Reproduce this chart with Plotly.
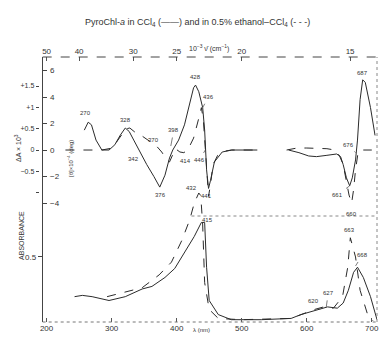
import plotly.graph_objects as go

# ---- data (wavelength in nm) ----
# CD, [theta] x 10^-4 (deg): CCl4 (solid)
cd_solid_wl = [258, 264, 269, 276, 285, 296, 305, 313, 321, 327, 334, 342, 354, 365, 374, 382, 389, 394,
               403, 412, 420, 426, 429, 434, 440, 443, 446, 449, 452, 458, 470, 485, 524, None,
               572, 588, 603, 615, 631, 646, 652, 656, 661, 666, 670, 675, 678, 682, 686, 690, 698, 705]
cd_solid = [1.5, 2.1, 1.9, 0.75, 0, 0, 0.4, 1.1, 1.66, 1.4, 0.75, 0, -1.1, -2.0, -2.8, -1.9, -0.6, 0,
            0.75, 1.9, 3.4, 4.7, 4.9, 4.4, 3.2, 1.5, -1.5, -2.9, -2.3, -0.9, -0.15, 0, 0, None,
            0, -0.2, -0.45, -0.5, -0.4, -0.3, -0.5, -1.1, -2.1, -2.7, -2.1, -0.75, 0.75, 3.8, 5.3, 5.1, 3.2, 1.1]
# CD: 0.5% ethanol-CCl4 (dashed)
cd_dash_wl = [229, 285, 301, 313, 322, 328, 337, 347, 357, 369, 377, 385, 389, 394, 398, 405, 411, 417,
              426, 434, 438, 441, 444, 447, 449, 452, 456, 463, 472, 484, 520, None,
              569, 585, 600, 615, 631, 643, 650, 656, 661, 665, 669, 672, 675, 679, 684, 700]
cd_dash = [0, 0, 0.15, 1.0, 1.6, 1.66, 1.3, 1.05, 0.7, 0.3, -0.15, -0.75, -0.9, -0.3, 0.1, -0.15, -0.2, 0,
           0.9, 2.4, 3.2, 2.3, 0, -2.6, -3.5, -2.6, -1.1, -0.4, -0.1, 0, 0, None,
           0, 0.15, 0.15, 0.15, 0.1, 0, -0.4, -1.1, -2.3, -3.4, -4.0, -3.0, -1.5, -0.15, 0, 0]
# Absorbance: CCl4 (solid)
abs_solid_wl = [243, 255, 270, 296, 321, 347, 362, 382, 397, 412, 427, 438, 443, 446, 450, 464, 484, 530,
                576, 591, 617, 632, 647, 656, 664, 672, 678, 687, 698, 708]
abs_solid = [0.19, 0.20, 0.19, 0.16, 0.19, 0.25, 0.27, 0.34, 0.41, 0.53, 0.66, 0.77, 0.77, 0.42, 0.16,
             0.05, 0.01, 0.01, 0.02, 0.05, 0.09, 0.11, 0.10, 0.14, 0.24, 0.38, 0.42, 0.34, 0.19, 0.01]
# Absorbance: ethanol-CCl4 (dashed)
abs_dash_wl = [293, 316, 347, 373, 392, 408, 420, 427, 434, 437, 440, 443, 450, 464, 499, 576, 612, 626,
               641, 655, 663, 667, 675, 682, 693, 702]
abs_dash = [0.19, 0.22, 0.26, 0.36, 0.46, 0.63, 0.79, 0.92, 1.00, 0.98, 0.75, 0.30, 0.09, 0.02, 0.01,
            0.02, 0.09, 0.11, 0.10, 0.19, 0.42, 0.65, 0.50, 0.24, 0.06, 0.0]

wl_ticks = [200, 300, 400, 500, 600, 700]
wn_ticks = [50, 40, 30, 25, 20, 15]          # 10^-3 nu (cm^-1)
theta_ticks = [6, 4, 2, 0, -2, -4]
dA_ticks = [1.5, 1, 0.5, 0, -0.5, -1]
dA_text = ["+1.5", "+1", "+0.5", "0", "\u22120.5", ""]

INK = "#2b2b2b"
FONT = "Liberation Sans"

fig = go.Figure()
fig.add_trace(go.Scatter(x=abs_solid_wl, y=abs_solid, mode="lines", yaxis="y",
                         line=dict(color=INK, width=1), hoverinfo="skip"))
fig.add_trace(go.Scatter(x=abs_dash_wl, y=abs_dash, mode="lines", yaxis="y",
                         line=dict(color=INK, width=1, dash="dash"), hoverinfo="skip"))
fig.add_trace(go.Scatter(x=cd_solid_wl, y=cd_solid, mode="lines", yaxis="y2",
                         line=dict(color=INK, width=1), connectgaps=False, hoverinfo="skip"))
fig.add_trace(go.Scatter(x=cd_dash_wl, y=cd_dash, mode="lines", yaxis="y2",
                         line=dict(color=INK, width=1, dash="dash"), connectgaps=False, hoverinfo="skip"))
# carrier traces so that the extra axes render
fig.add_trace(go.Scatter(x=[None], y=[None], yaxis="y3", showlegend=False, hoverinfo="skip"))
fig.add_trace(go.Scatter(x=[None], y=[None], xaxis="x2", showlegend=False, hoverinfo="skip"))

W, H = 383, 338
L, R, T, B = 0, 6, 57, 16
pw = W - L - R
plot_left = 40
x0dom = plot_left / pw
xr = [194, 708]

tickfont = dict(family=FONT, size=8, color="#333")
fig.update_layout(
    width=W, height=H, margin=dict(l=L, r=R, t=T, b=B),
    paper_bgcolor="white", plot_bgcolor="white", showlegend=False,
    font=dict(family=FONT, size=8, color="#333"),
    xaxis=dict(domain=[x0dom, 1], range=xr, tickvals=wl_ticks, ticks="inside", ticklen=4,
               tickcolor="#555", tickfont=tickfont, showgrid=False, zeroline=False, showline=False),
    xaxis2=dict(overlaying="x", side="top", range=xr, anchor="y",
                tickvals=[1e4 / v for v in wn_ticks], ticktext=[str(v) for v in wn_ticks],
                ticks="inside", ticklen=4, tickcolor="#555", tickfont=tickfont,
                showgrid=False, zeroline=False, showline=False),
    yaxis=dict(range=[-0.008, 2.0625], tickvals=[0.5], ticktext=["0.5"], ticks="outside", ticklen=4,
               tickcolor="#444", tickfont=tickfont, showgrid=False, zeroline=False,
               showline=True, linecolor="#444", linewidth=1),
    yaxis2=dict(overlaying="y", anchor="x", side="left", range=[-12.98, 7.02], tickvals=theta_ticks,
                ticks="inside", ticklen=4, tickcolor="#444", showticklabels=False,
                showgrid=False, zeroline=False, showline=False),
    yaxis3=dict(overlaying="y", anchor="free", position=36 / pw, side="left", range=[-4.03, 2.18],
                tickvals=dA_ticks, ticktext=dA_text, ticks="outside", ticklen=3, tickcolor="#444",
                tickfont=dict(family=FONT, size=7, color="#333"),
                showgrid=False, zeroline=False, showline=False),
)

# ellipticity tick labels, drawn just inside the left axis
for v in theta_ticks:
    fig.add_annotation(xref="x domain", yref="y2", x=0, y=v, xanchor="left", xshift=5,
                       text=str(v) if v >= 0 else "\u2212" + str(-v), showarrow=False, font=tickfont)

# frame lines (scan looks dotted / dashed)
fig.add_shape(type="line", xref="x domain", yref="y domain", x0=0, x1=1, y0=0, y1=0,
              line=dict(color="#777", width=1, dash="dot"))
fig.add_shape(type="line", xref="x domain", yref="y domain", x0=1, x1=1, y0=0, y1=1,
              line=dict(color="#888", width=1, dash="dot"))
fig.add_shape(type="line", xref="x domain", yref="y domain", x0=0, x1=1, y0=1, y1=1,
              line=dict(color="#444", width=1, dash="dash"))
fig.add_shape(type="line", xref="x domain", yref="y domain", x0=0.445, x1=1, y0=0.4, y1=0.4,
              line=dict(color="#888", width=1, dash="dot"))

lab = dict(family=FONT, size=6, color="#333")
# peak labels: (text, wavelength, value, axis, dx, dy, leader)  -- dx/dy pixel offset of text
peak_labels = [
    ("270", 264, 2.1, "y2", -3, -9, False),
    ("328", 321, 1.66, "y2", 0, -8, False),
    ("342", 342, 0, "y2", -5, 9, False),
    ("370", 369, 0.3, "y2", -3, -6, False),
    ("376", 374, -2.8, "y2", 1, 8, False),
    ("398", 391, 0.3, "y2", 3, -16, True),
    ("414", 411, -0.2, "y2", 2, 8, False),
    ("428", 429, 4.9, "y2", 0, -8, False),
    ("436", 440, 3.2, "y2", 6, -11, True),
    ("446", 444, 0, "y2", -6, 10, True),
    ("432", 438, -2.0, "y2", -10, 11, False),
    ("441", 449, -2.9, "y2", -2, 8, False),
    ("687", 686, 5.3, "y2", 0, -7, False),
    ("676", 675, -0.2, "y2", -7, -8, True),
    ("661", 666, -2.7, "y2", -12, 9, True),
    ("660", 669, -4.0, "y2", 0, 11, False),
    ("415", 440, 0.77, "y", 5, -2, False),
    ("663", 667, 0.65, "y", -1, -8, False),
    ("668", 675, 0.43, "y", 7, -11, True),
    ("620", 620, 0.09, "y", -6, -8, True),
    ("627", 630, 0.11, "y", 2, -14, True),
]
for t, wl, v, ax_, dx, dy, arrow in peak_labels:
    if arrow:
        fig.add_annotation(x=wl, y=v, xref="x", yref=ax_, text=t, showarrow=True, arrowhead=0,
                           arrowwidth=0.7, arrowcolor="#444", ax=dx, ay=dy, font=lab,
                           standoff=0, startstandoff=3)
    else:
        fig.add_annotation(x=wl, y=v, xref="x", yref=ax_, text=t, showarrow=False,
                           xshift=dx, yshift=-dy, font=lab)

ph = H - T - B
def py(pix):
    return (H - B - pix) / ph

fig.add_annotation(xref="paper", yref="paper", x=196 / pw, y=py(15), showarrow=False,
                   text="PyroChl-<i>a</i> in CCl<sub>4</sub> (\u2014\u2014) and in 0.5% ethanol\u2013CCl<sub>4</sub> (- - -)",
                   font=dict(family=FONT, size=9, color="#333"))
fig.add_annotation(xref="paper", yref="paper", x=208 / pw, y=py(42), showarrow=False,
                   text="10<sup>\u22123</sup> \u03bd\u0304 (cm<sup>\u22121</sup>)",
                   font=dict(family=FONT, size=7, color="#333"))
fig.add_annotation(xref="paper", yref="paper", x=9 / pw, y=py(148), showarrow=False, textangle=-90,
                   text="\u0394A \u00d7 10<sup>3</sup>", font=dict(family=FONT, size=7, color="#333"))
fig.add_annotation(xref="paper", yref="paper", x=61 / pw, y=py(138), showarrow=False, textangle=-90,
                   text="[\u03b8]\u00d710<sup>\u22124</sup> (deg)", font=dict(family=FONT, size=6, color="#333"))
fig.add_annotation(xref="paper", yref="paper", x=13 / pw, y=py(262), showarrow=False, textangle=-90,
                   text="ABSORBANCE", font=dict(family=FONT, size=7, color="#333"))
fig.add_annotation(xref="paper", yref="paper", x=200 / pw, y=py(335), showarrow=False,
                   text="\u03bb (nm)", font=dict(family=FONT, size=6, color="#333"))

fig.write_html("out.html")
